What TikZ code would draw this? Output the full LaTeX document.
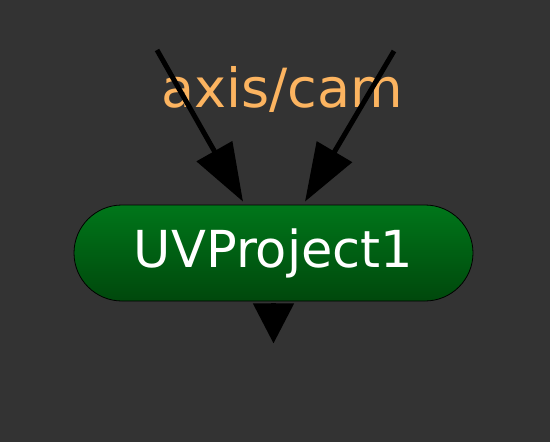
\documentclass[tikz,border=0pt]{standalone}
\usepackage{fontspec}
\setmainfont{DejaVu Sans}
\usetikzlibrary{positioning,arrows.meta,shapes.misc}

\definecolor{dagbg}{RGB}{51,51,51}
\definecolor{labelorange}{RGB}{252,180,96}
\definecolor{nodetop}{RGB}{0,118,26}
\definecolor{nodebottom}{RGB}{0,72,12}

\tikzset{
	opnode/.style={rounded rectangle, draw=black, line width=0.8pt,
		top color=nodetop, bottom color=nodebottom, text=white,
		minimum width=399pt, minimum height=96pt, inner sep=0pt,
		font=\fontsize{51}{60}\selectfont},
	inlabel/.style={text=labelorange, inner sep=0pt,
		font=\fontsize{54}{60}\selectfont},
	input/.style={line width=5pt, -{Triangle[length=58pt,width=40pt]}},
	output/.style={line width=5pt, shorten <=2pt, -{Triangle[length=40pt,width=40pt]}}
}

\begin{document}
\begin{tikzpicture}[x=1pt, y=-1pt]
	\fill[dagbg] (0,0) rectangle (550,442);
	\useasboundingbox (0,0) rectangle (550,442);
	
	\node[opnode] (uv) at (273.5,253) {UVProject1};
	\node[inlabel, anchor=base] (axiscam) at (282,107) {axis/cam};
	\coordinate (axisin) at (157,50);
	\coordinate (camin) at (394,51);
	\coordinate [below=42pt of uv.south] (uvout);
	
	\draw[input] (axisin) -- ([xshift=-30.5pt,yshift=3pt]uv.north);
	\draw[input] (camin) -- ([xshift=31.5pt,yshift=3pt]uv.north);
	\draw[output] (uv.south) -- (uvout);
\end{tikzpicture}
\end{document}
